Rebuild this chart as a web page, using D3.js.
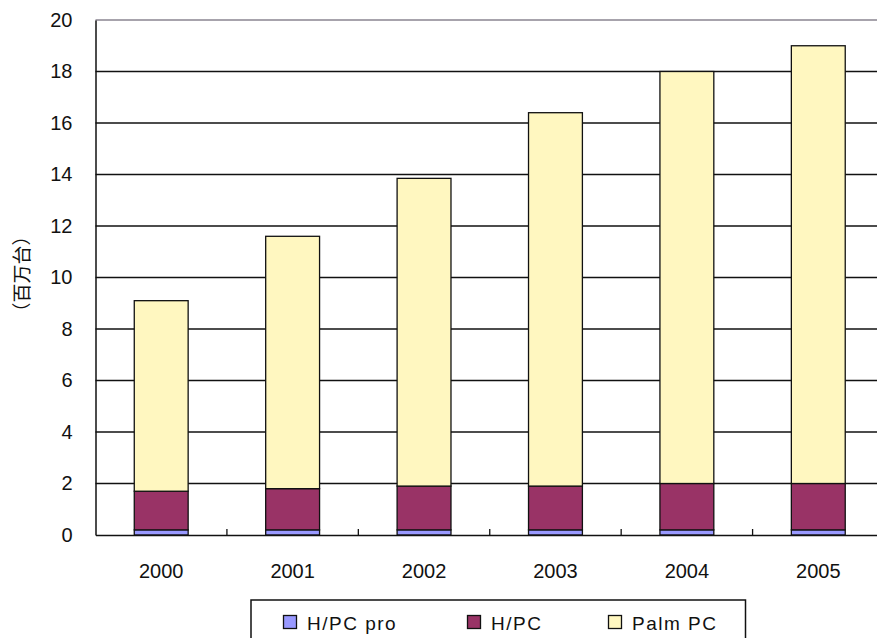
<!DOCTYPE html>
<html>
<head>
<meta charset="utf-8">
<script src="https://cdn.jsdelivr.net/npm/d3@7"></script>
<style>
  body { margin: 0; background: #fff; }
  svg text { font-family: "Liberation Sans", Arial, sans-serif; fill: #111; }
</style>
</head>
<body>
<svg id="chart" width="877" height="638"></svg>
<script>
const years = ['2000', '2001', '2002', '2003', '2004', '2005'];
const hpcPro = [0.2, 0.2, 0.2, 0.2, 0.2, 0.2];
const hpc = [1.5, 1.6, 1.7, 1.7, 1.8, 1.8];
const palmPc = [7.4, 9.8, 11.95, 14.5, 16.0, 17.0];
const seriesNames = ['H/PC pro', 'H/PC', 'Palm PC'];
const seriesColors = ['#9999ff', '#993366', '#fff7c0'];
const yTicks = [0, 2, 4, 6, 8, 10, 12, 14, 16, 18, 20];

const svg = d3.select('#chart');
const plotLeft = 95.5, plotRight = 884, plotTop = 20, plotBottom = 535;

const rows = years.map((y, i) => ({year: y, 'H/PC pro': hpcPro[i], 'H/PC': hpc[i], 'Palm PC': palmPc[i]}));
const stacked = d3.stack().keys(seriesNames)(rows);

const x = d3.scaleBand().domain(years).range([plotLeft, plotRight]).paddingInner(0.59).paddingOuter(0.295);
const y = d3.scaleLinear().domain([0, 20]).range([plotBottom, plotTop]);

// gridlines
svg.append('g')
    .selectAll('line')
    .data(yTicks.filter(d => d > 0))
    .enter()
    .append('line')
    .attr('x1', plotLeft)
    .attr('x2', plotRight)
    .attr('y1', d => y(d))
    .attr('y2', d => y(d))
    .attr('stroke', d => d === 20 ? '#8a8490' : '#111')
    .attr('stroke-width', 1.3);

// bars
svg.append('g')
    .selectAll('g')
    .data(stacked)
    .enter()
    .append('g')
    .attr('fill', (d, i) => seriesColors[i])
    .selectAll('rect')
    .data(d => d)
    .enter()
    .append('rect')
    .attr('x', d => x(d.data.year))
    .attr('width', x.bandwidth())
    .attr('y', d => y(d[1]))
    .attr('height', d => y(d[0]) - y(d[1]))
    .attr('stroke', '#111')
    .attr('stroke-width', 1.3);

// y axis
const yAxis = svg.append('g')
    .attr('transform', `translate(${plotLeft},0)`)
    .call(d3.axisLeft(y).tickValues(yTicks).tickSize(0).tickPadding(23));
yAxis.select('.domain').attr('stroke', '#111').attr('stroke-width', 1.5);
yAxis.selectAll('text')
    .style('font-family', '"Liberation Sans", Arial, sans-serif')
    .style('font-size', '20px');

// x axis
const step = x.step();
const xAxis = svg.append('g')
    .attr('transform', `translate(0,${plotBottom})`)
    .call(d3.axisBottom(x).tickSize(0).tickPadding(29));
xAxis.select('.domain').attr('stroke', '#111').attr('stroke-width', 1.5);
xAxis.selectAll('text')
    .style('font-family', '"Liberation Sans", Arial, sans-serif')
    .style('font-size', '20px');
xAxis.append('g')
    .selectAll('line')
    .data(years.slice(1))
    .enter()
    .append('line')
    .attr('x1', d => x(d) + x.bandwidth() / 2 - step / 2)
    .attr('x2', d => x(d) + x.bandwidth() / 2 - step / 2)
    .attr('y1', 0)
    .attr('y2', -6)
    .attr('stroke', '#111')
    .attr('stroke-width', 1.3);

// y label
svg.append('text')
    .attr('transform', 'translate(29,274) rotate(-90)')
    .attr('text-anchor', 'middle')
    .style('font-family', '"Noto Sans CJK JP", sans-serif')
    .style('font-size', '19px')
    .text('（百万台）');

// legend
const legend = svg.append('g');
legend.append('rect')
    .attr('x', 251)
    .attr('y', 600)
    .attr('width', 494.5)
    .attr('height', 60)
    .attr('fill', '#fff')
    .attr('stroke', '#111')
    .attr('stroke-width', 1.5);
const legendX = [283, 467, 608];
const items = legend.selectAll('.item')
    .data(seriesNames)
    .enter()
    .append('g')
    .attr('class', 'item')
    .attr('transform', (d, i) => `translate(${legendX[i]},0)`);
items.append('rect')
    .attr('x', 0.5)
    .attr('y', 615.5)
    .attr('width', 13)
    .attr('height', 13)
    .attr('fill', (d, i) => seriesColors[i])
    .attr('stroke', '#111')
    .attr('stroke-width', 1.3);
items.append('text')
    .attr('x', 24)
    .attr('y', 630)
    .style('font-size', '19px')
    .style('letter-spacing', '1.5px')
    .text(d => d);
</script>
</body>
</html>
